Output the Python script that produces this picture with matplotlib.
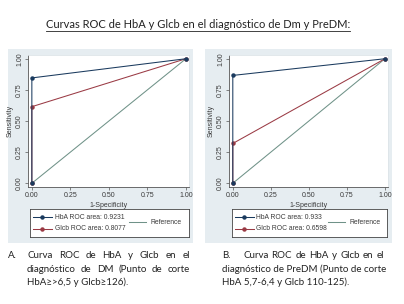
import matplotlib
matplotlib.use("Agg")
import matplotlib.pyplot as plt
from matplotlib.patches import Rectangle
from matplotlib.lines import Line2D

W, H = 404, 304
DPI = 100

# ---- data ----
fpr_hba_A = [0.0, 0.0, 1.0]
tpr_hba_A = [0.0, 0.846, 1.0]
fpr_glc_A = [0.0, 0.0, 1.0]
tpr_glc_A = [0.0, 0.615, 1.0]
auc_hba_A = "0.9231"
auc_glc_A = "0.8077"

fpr_hba_B = [0.0, 0.0, 1.0]
tpr_hba_B = [0.0, 0.866, 1.0]
fpr_glc_B = [0.0, 0.0, 1.0]
tpr_glc_B = [0.0, 0.3196, 1.0]
auc_hba_B = "0.933"
auc_glc_B = "0.6598"

ref_x = [0.0, 1.0]
ref_y = [0.0, 1.0]
ticks = [0.0, 0.25, 0.5, 0.75, 1.0]
tick_labels = ["0.00", "0.25", "0.50", "0.75", "1.00"]

title = "Curvas ROC de HbA y Glcb en el diagnóstico de Dm y PreDM:"
capA = ["Curva ROC de HbA y Glcb en el",
        "diagnóstico de DM (Punto de corte",
        "HbA≥>6,5 y Glcb≥126)."]
capB = ["Curva ROC de HbA y Glcb en el",
        "diagnóstico de PreDM (Punto de corte",
        "HbA 5,7-6,4 y Glcb 110-125)."]

C_HBA = "#1a3a5e"
C_GLC = "#9a3a44"
C_REF = "#6f9288"
BG = "#e6edf1"
TXT = "#3a3a3a"

fig = plt.figure(figsize=(W / DPI, H / DPI), dpi=DPI)
fig.patch.set_facecolor("white")


def fx(x):
    return x / W


def fy(y):
    return 1 - y / H


def box(l, t, r, b):
    return [fx(l), fy(b), fx(r) - fx(l), fy(t) - fy(b)]


def panel(bg, axrect, legrect, hx, hy, gx, gy, ah, ag):
    fig.add_artist(Rectangle((fx(bg[0]), fy(bg[3])), fx(bg[2]) - fx(bg[0]),
                             fy(bg[1]) - fy(bg[3]), transform=fig.transFigure,
                             facecolor=BG, edgecolor="none", zorder=-5))
    ax = fig.add_axes(box(*axrect))
    ax.set_zorder(2)
    ax.set_facecolor("white")
    ax.plot(ref_x, ref_y, color=C_REF, lw=0.75, zorder=2)
    ax.plot(gx, gy, color=C_GLC, lw=0.75, marker="o", ms=2.2, zorder=3)
    ax.plot(hx, hy, color=C_HBA, lw=0.75, marker="o", ms=2.2, zorder=4)
    ax.set_xlim(-0.025, 1.02)
    ax.set_ylim(-0.03, 1.03)
    ax.set_xticks(ticks)
    ax.set_xticklabels(tick_labels, fontsize=5, family="Liberation Sans")
    ax.set_yticks(ticks)
    ax.set_yticklabels(tick_labels, fontsize=5, family="Liberation Sans",
                       rotation=90, va="center")
    ax.tick_params(length=2, width=0.5, pad=1.5, colors="#555555",
                   labelcolor=TXT)
    for s in ["top", "right"]:
        ax.spines[s].set_color("#dde4e8")
        ax.spines[s].set_linewidth(0.6)
    for s in ["left", "bottom"]:
        ax.spines[s].set_color("#555555")
        ax.spines[s].set_linewidth(0.6)
    ax.set_xlabel("1-Specificity", fontsize=5, family="Liberation Sans",
                  labelpad=2, color=TXT)
    ax.set_ylabel("Sensitivity", fontsize=5, family="Liberation Sans",
                  labelpad=2, color=TXT)

    lg = fig.add_axes(box(*legrect))
    lg.set_zorder(2)
    lg.set_xlim(0, 1)
    lg.set_ylim(0, 1)
    lg.set_xticks([])
    lg.set_yticks([])
    lg.set_facecolor("white")
    for s in lg.spines.values():
        s.set_color("#444444")
        s.set_linewidth(0.6)
    entries = [(C_HBA, "HbA ROC area: " + ah, 0.70),
               (C_GLC, "Glcb ROC area: " + ag, 0.30)]
    for c, lab, yy in entries:
        lg.add_line(Line2D([0.02, 0.14], [yy, yy], color=c, lw=0.75))
        lg.plot([0.075], [yy], marker="o", ms=2.2, color=c)
        lg.text(0.155, yy, lab, fontsize=4.9, family="Liberation Sans",
                va="center", ha="left", color=TXT)
    lg.add_line(Line2D([0.62, 0.73], [0.52, 0.52], color=C_REF, lw=0.75))
    lg.text(0.755, 0.52, "Reference", fontsize=4.9, family="Liberation Sans",
            va="center", ha="left", color=TXT)


panel((8, 49, 193, 243), (28, 55, 189, 187), (30, 209, 189, 237),
      fpr_hba_A, tpr_hba_A, fpr_glc_A, tpr_glc_A, auc_hba_A, auc_glc_A)
panel((205, 49, 392, 243), (229, 55, 388, 187), (232, 209, 387, 237),
      fpr_hba_B, tpr_hba_B, fpr_glc_B, tpr_glc_B, auc_hba_B, auc_glc_B)

fig.canvas.draw()
renderer = fig.canvas.get_renderer()

# title with underline
t = fig.text(fx(198), fy(25), title, fontsize=8, family="Lato",
             ha="center", va="center", color="#222222")
bb = t.get_window_extent(renderer)
uy = bb.y0 - 0.5
fig.add_artist(Line2D([bb.x0 / W, bb.x1 / W], [uy / H, uy / H],
                      transform=fig.transFigure, color="#222222", lw=0.6))

FS = 7


def word_w(w):
    tt = fig.text(0, 0, w, fontsize=FS, family="Lato")
    ww = tt.get_window_extent(renderer).width
    tt.remove()
    return ww


def justified(line, x0, x1, y):
    words = line.split(" ")
    widths = [word_w(w) for w in words]
    gap = (x1 - x0 - sum(widths)) / (len(words) - 1)
    x = x0
    for w, wd in zip(words, widths):
        fig.text(fx(x), fy(y), w, fontsize=FS, family="Lato", va="center",
                 ha="left", color="#222222")
        x += wd + gap


def plain(line, x0, y):
    fig.text(fx(x0), fy(y), line, fontsize=FS, family="Lato", va="center",
             ha="left", color="#222222")


# caption A
plain("A.", 8, 256)
justified(capA[0], 27, 190, 256)
justified(capA[1], 27, 190, 269)
plain(capA[2], 27, 282)
# caption B
plain("B.", 222, 256)
justified(capB[0], 243, 384, 256)
plain(capB[1], 222, 269)
plain(capB[2], 222, 282)

fig.savefig("out.png", dpi=DPI)
